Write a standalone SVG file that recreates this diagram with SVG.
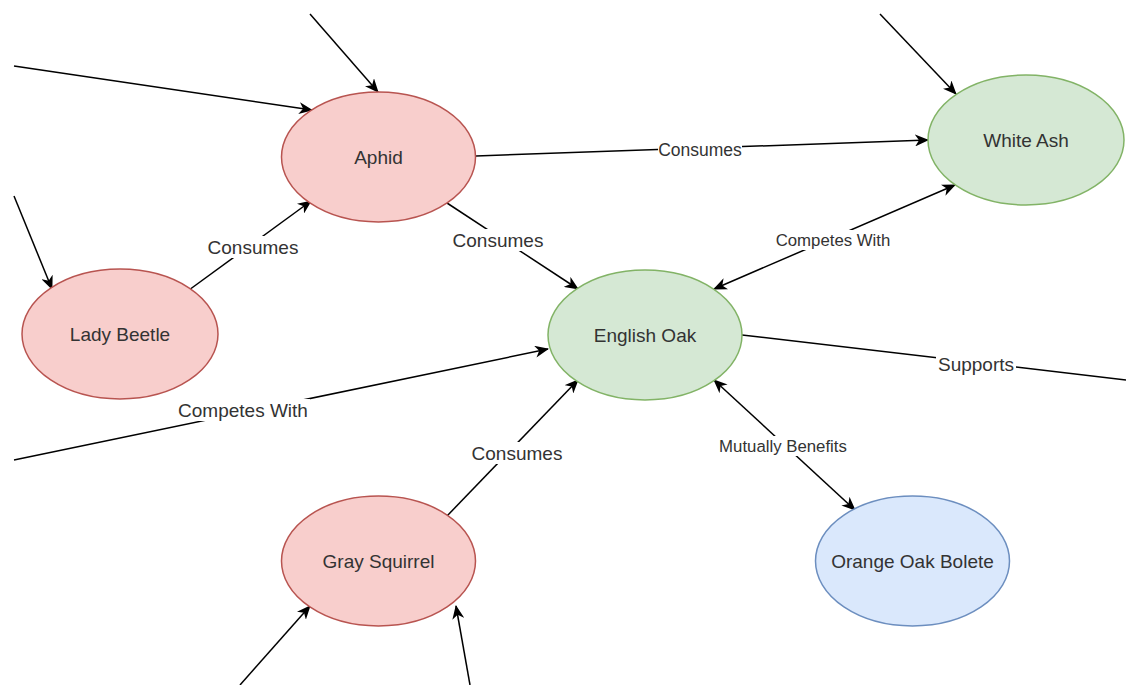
<svg xmlns="http://www.w3.org/2000/svg" width="1126" height="685" viewBox="0 0 1126 685">
<style>
.red{fill:#f8cecc;stroke:#b85450;stroke-width:1.5}
.green{fill:#d5e8d4;stroke:#82b366;stroke-width:1.5}
.blue{fill:#dae8fc;stroke:#6c8ebf;stroke-width:1.5}
.nl{font-family:"Liberation Sans",Arial,sans-serif;font-size:19px;fill:#333333;text-anchor:middle;dominant-baseline:central}
.el{font-family:"Liberation Sans",Arial,sans-serif;font-size:19px;fill:#333333;text-anchor:middle;dominant-baseline:central}
.es{font-size:16.8px}
.em{font-size:17.5px}
.edge{stroke:#000;stroke-width:1.5;fill:none}
.lbg{fill:#fff}
</style>
<defs>
<marker id="arr" viewBox="0 0 14 12" refX="13" refY="6" markerWidth="14" markerHeight="12" markerUnits="userSpaceOnUse" orient="auto-start-reverse">
<path d="M0,0 L14,6 L0,12 L4,6 Z" fill="#000"/>
</marker>
</defs>
<rect width="1126" height="685" fill="#fff"/>
<g id="connectors">
<line class="edge" x1="310" y1="14" x2="378" y2="92" marker-end="url(#arr)"/>
<line class="edge" x1="14" y1="66" x2="312" y2="110" marker-end="url(#arr)"/>
<line class="edge" x1="476" y1="156" x2="928" y2="140" marker-end="url(#arr)"/>
<line class="edge" x1="189" y1="290" x2="311" y2="201" marker-end="url(#arr)"/>
<line class="edge" x1="14" y1="196" x2="52" y2="289" marker-end="url(#arr)"/>
<line class="edge" x1="447" y1="203" x2="578" y2="289" marker-end="url(#arr)"/>
<line class="edge" x1="955" y1="185" x2="714" y2="289" marker-start="url(#arr)" marker-end="url(#arr)"/>
<line class="edge" x1="14" y1="460" x2="548" y2="349" marker-end="url(#arr)"/>
<line class="edge" x1="742" y1="335" x2="1126" y2="380"/>
<line class="edge" x1="447" y1="516" x2="578" y2="380" marker-end="url(#arr)"/>
<line class="edge" x1="714" y1="380" x2="855" y2="510" marker-start="url(#arr)" marker-end="url(#arr)"/>
<line class="edge" x1="240" y1="685" x2="310" y2="606" marker-end="url(#arr)"/>
<line class="edge" x1="470" y1="685" x2="456" y2="606" marker-end="url(#arr)"/>
<line class="edge" x1="880" y1="14" x2="956" y2="94" marker-end="url(#arr)"/>
<g id="edge-labels">
<rect class="lbg" x="658" y="141" width="84" height="18"/>
<text class="el em" x="700" y="150">Consumes</text>
<rect class="lbg" x="205" y="236" width="96" height="22"/>
<text class="el" x="253" y="247">Consumes</text>
<rect class="lbg" x="450" y="229" width="96" height="22"/>
<text class="el" x="498" y="240">Consumes</text>
<rect class="lbg" x="771" y="230" width="124" height="20"/>
<text class="el es" x="833" y="240">Competes With</text>
<rect class="lbg" x="176" y="399" width="134" height="22"/>
<text class="el" x="243" y="410">Competes With</text>
<rect class="lbg" x="936" y="354" width="80" height="20"/>
<text class="el" x="976" y="364">Supports</text>
<rect class="lbg" x="469" y="442" width="96" height="22"/>
<text class="el" x="517" y="453">Consumes</text>
<rect class="lbg" x="715" y="436" width="136" height="20"/>
<text class="el es" x="783" y="446">Mutually Benefits</text>
</g>
</g>
<g id="aphid">
<ellipse class="red" cx="378.5" cy="157" rx="97" ry="65"/>
<text class="nl" x="378.5" y="157">Aphid</text>
</g>
<g id="white-ash">
<ellipse class="green" cx="1026" cy="140" rx="98" ry="65"/>
<text class="nl" x="1026" y="140">White Ash</text>
</g>
<g id="lady-beetle">
<ellipse class="red" cx="120" cy="334" rx="98" ry="65"/>
<text class="nl" x="120" y="334">Lady Beetle</text>
</g>
<g id="english-oak">
<ellipse class="green" cx="645" cy="335" rx="97" ry="65"/>
<text class="nl" x="645" y="335">English Oak</text>
</g>
<g id="gray-squirrel">
<ellipse class="red" cx="378.5" cy="561" rx="97" ry="65"/>
<text class="nl" x="378.5" y="561">Gray Squirrel</text>
</g>
<g id="orange-oak-bolete">
<ellipse class="blue" cx="912.5" cy="561" rx="97" ry="65"/>
<text class="nl" x="912.5" y="561">Orange Oak Bolete</text>
</g>
</svg>
